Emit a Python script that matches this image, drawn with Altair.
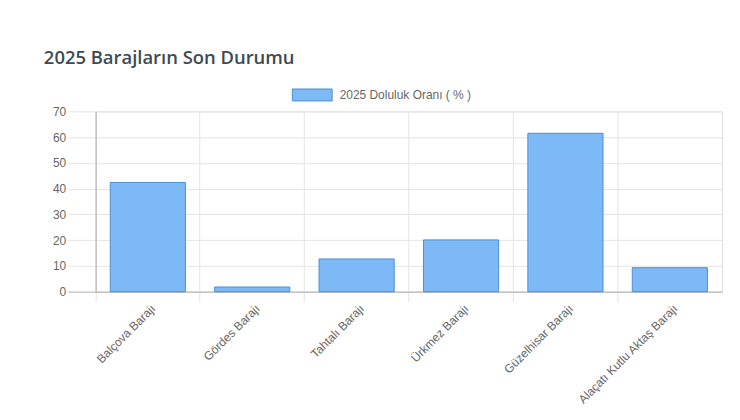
import altair as alt
import pandas as pd

barajlar = ["Balçova Barajı", "Gördes Barajı", "Tahtalı Barajı", "Ürkmez Barajı",
            "Güzelhisar Barajı", "Alaçatı Kutlu Aktaş Barajı"]
doluluk = [42.4, 1.8, 12.7, 20.1, 61.5, 9.3]
seri_adi = "2025 Doluluk Oranı ( % )"
y_ticks = [0, 10, 20, 30, 40, 50, 60, 70]
baslik = "2025 Barajların Son Durumu"

df = pd.DataFrame({"baraj": barajlar, "oran": doluluk, "seri": [seri_adi] * len(barajlar)})

FILL = "#7db8f7"
EDGE = "#4a8fd6"
GRID = "#e4e4e4"
LABEL = "#666666"
FONT = "Liberation Sans"

chart = alt.Chart(df).mark_bar(stroke=EDGE, strokeWidth=1, width=alt.RelativeBandSize(0.72)).encode(
    x=alt.X("baraj:N", sort=barajlar, title=None,
            scale=alt.Scale(paddingInner=0, paddingOuter=0),
            axis=alt.Axis(bandPosition=0, grid=True, gridColor=GRID, tickColor=GRID,
                          tickSize=10, labelAngle=-45, labelAlign="right", labelBaseline="top",
                          labelFont=FONT, labelFontSize=12,
                          labelColor=LABEL, domainColor="#b0b0b0", labelPadding=1,
                          labelOffset=2)),
    y=alt.Y("oran:Q", title=None,
            scale=alt.Scale(domain=[0, 70], nice=False),
            axis=alt.Axis(values=y_ticks, grid=True, gridColor=GRID,
                          tickColor={"condition": {"test": "datum.value === 0", "value": "#b0b0b0"}, "value": GRID},
                          tickSize=28, labelFont=FONT, labelFontSize=12, labelColor=LABEL,
                          labelPadding=2, domainColor="#b0b0b0")),
    color=alt.Color("seri:N", scale=alt.Scale(range=[FILL]),
                    legend=alt.Legend(title=None, orient="none", legendX=207, legendY=-27,
                                      symbolType="M-2,-0.6H2V0.6H-2Z", symbolSize=400,
                                      symbolStrokeColor=EDGE, symbolStrokeWidth=1,
                                      symbolOpacity=1, labelOffset=17, labelFont=FONT,
                                      labelFontSize=12, labelColor=LABEL, padding=0)),
).properties(
    width=629, height=181,
    autosize=alt.AutoSizeParams(type="none"),
    padding={"left": 88, "top": 103, "right": 10, "bottom": 118},
    title=alt.TitleParams(text=baslik, anchor="start", frame="group", dx=-52, offset=2,
                          baseline="alphabetic", font="Open Sans", fontWeight=600,
                          fontSize=18.5, color="#3d4a53"),
).configure_view(stroke=None).configure(background="white")

chart.save("out.html", embed_options={"renderer": "svg", "actions": False})
